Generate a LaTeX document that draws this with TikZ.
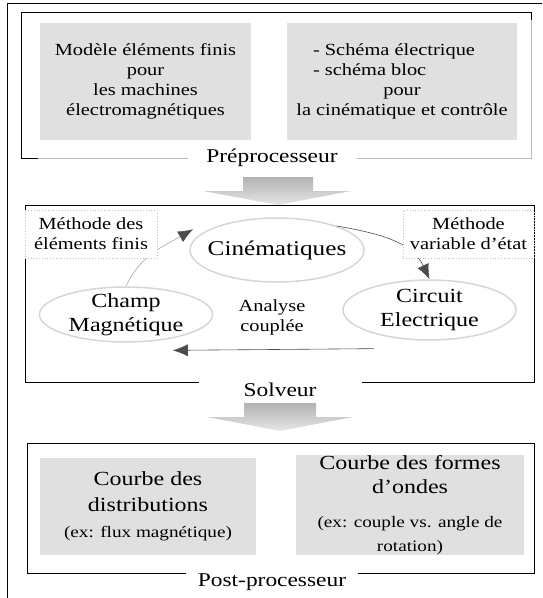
\documentclass[tikz,border=0pt]{standalone}
\usepackage{fontspec}
\setmainfont{Liberation Serif}[FakeStretch=1.2]
\usetikzlibrary{positioning, shapes.geometric, arrows.meta}

\definecolor{boxgray}{gray}{0.88}
\definecolor{ringgray}{gray}{0.84}
\definecolor{tipgray}{gray}{0.3}

\tikzset{
  panel/.style={draw=black, line width=0.7pt},
  paneledge/.style={draw=gray!55, line width=0.9pt},
  greybox/.style={fill=boxgray, align=center, inner sep=0pt, font=\fontsize{17}{20}\selectfont},
  ring/.style={ellipse, draw=ringgray, line width=1.5pt, inner sep=0pt},
  ringtext/.style={align=center, font=\fontsize{20}{24}\selectfont},
  methodbox/.style={draw=gray!50, dotted, line width=0.8pt, fill=white, align=center, inner sep=0pt, font=\fontsize{17}{20}\selectfont},
  stage/.style={fill=white, inner sep=0pt, font=\fontsize{19.5}{22}\selectfont},
  link/.style={-{Latex[length=15pt, width=12pt, color=tipgray]}, line width=0.6pt},
  bigarrow/.style={top color=gray!60, bottom color=gray!20},
}

\begin{document}
\begin{tikzpicture}[x=1pt, y=1pt]
    \useasboundingbox (0,0) rectangle (542,-598);
    \draw [line width=0.8pt] (7,-598) -- (7,-3) -- (542,-3);

    % preprocessor
    \draw [panel] (38,-158) -- (21,-158) -- (21,-12) -- (531,-12) -- (531,-20);
    \draw [paneledge] (38,-158) -- (531,-158) -- (531,-20);
    \node [greybox, minimum width=211pt, minimum height=117pt] (fem) at (145.5,-81.5)
        {Modèle éléments finis\\pour\\les machines\\électromagnétiques};
    \node [greybox, minimum width=230pt, minimum height=117pt] (schema) at (402,-81.5)
        {\makebox[178pt][l]{- Schéma électrique}\\\makebox[178pt][l]{- schéma bloc}\\pour\\la cinématique et contrôle};
    \node [stage, minimum width=169pt, minimum height=24pt] (pre) at (272,-158) {Préprocesseur};
    \shade [bigarrow] (243,-177) -- (313,-177) -- (313,-191) -- (351,-191) -- (278,-205) -- (203,-191) -- (243,-191) -- cycle;

    % solver
    \draw [panel] (25,-205) rectangle (534,-382);
    \node [ring, minimum width=174pt, minimum height=64pt] (cine) at (277,-250) {};
    \node [ring, minimum width=173pt, minimum height=55pt] (champ) at (126,-314.5) {};
    \node [ring, minimum width=173pt, minimum height=60pt] (circuit) at (429.5,-310) {};
    \node [ringtext, font=\fontsize{21}{25}\selectfont] at (cine.center) {Cinématiques};
    \node [ringtext] at (champ.center) {Champ\\Magnétique};
    \node [ringtext] at (circuit.center) {Circuit\\Electrique};
    \node [align=center, font=\fontsize{17}{20}\selectfont] (analyse) at (272,-317) {Analyse\\couplée};

    \draw [link, gray!70] (champ.north) to [out=65, in=210] ([xshift=-16pt]cine.163);
    \draw [link, tipgray] (cine.22) to [out=-10, in=115] (circuit.north);
    \draw [link, tipgray] ([yshift=-15pt]circuit.203) -- ([yshift=-12pt]champ.-27);

    \node [methodbox, minimum width=132pt, minimum height=48pt] (femlabel) at (91,-234) {Méthode des\\éléments finis};
    \node [methodbox, minimum width=131pt, minimum height=48pt] (statelabel) at (468.5,-234) {Méthode\\variable d'état};

    \node [stage, minimum width=163pt, minimum height=22pt] (solv) at (280,-390) {Solveur};
    \shade [bigarrow] (244,-403) -- (316,-403) -- (316,-417) -- (353,-417) -- (280,-431) -- (207,-417) -- (244,-417) -- cycle;

    % post-processor
    \draw [panel] (27,-443) rectangle (534,-573);
    \node [greybox, minimum width=216pt, minimum height=97pt, font=\fontsize{20}{26}\selectfont] (distrib) at (148,-506.5)
        {Courbe des\\distributions\\{\fontsize{16}{19}\selectfont (ex: flux magnétique)}};
    \node [greybox, minimum width=228pt, minimum height=100pt, font=\fontsize{20}{24}\selectfont] (ondes) at (410,-505)
        {Courbe des formes\\d'ondes\\[10pt]{\fontsize{16}{19}\selectfont (ex: couple vs. angle de}\\{\fontsize{16}{19}\selectfont rotation)}};
    \node [stage, minimum width=172pt, minimum height=22pt] (post) at (272,-582) {Post-processeur};
\end{tikzpicture}
\end{document}
